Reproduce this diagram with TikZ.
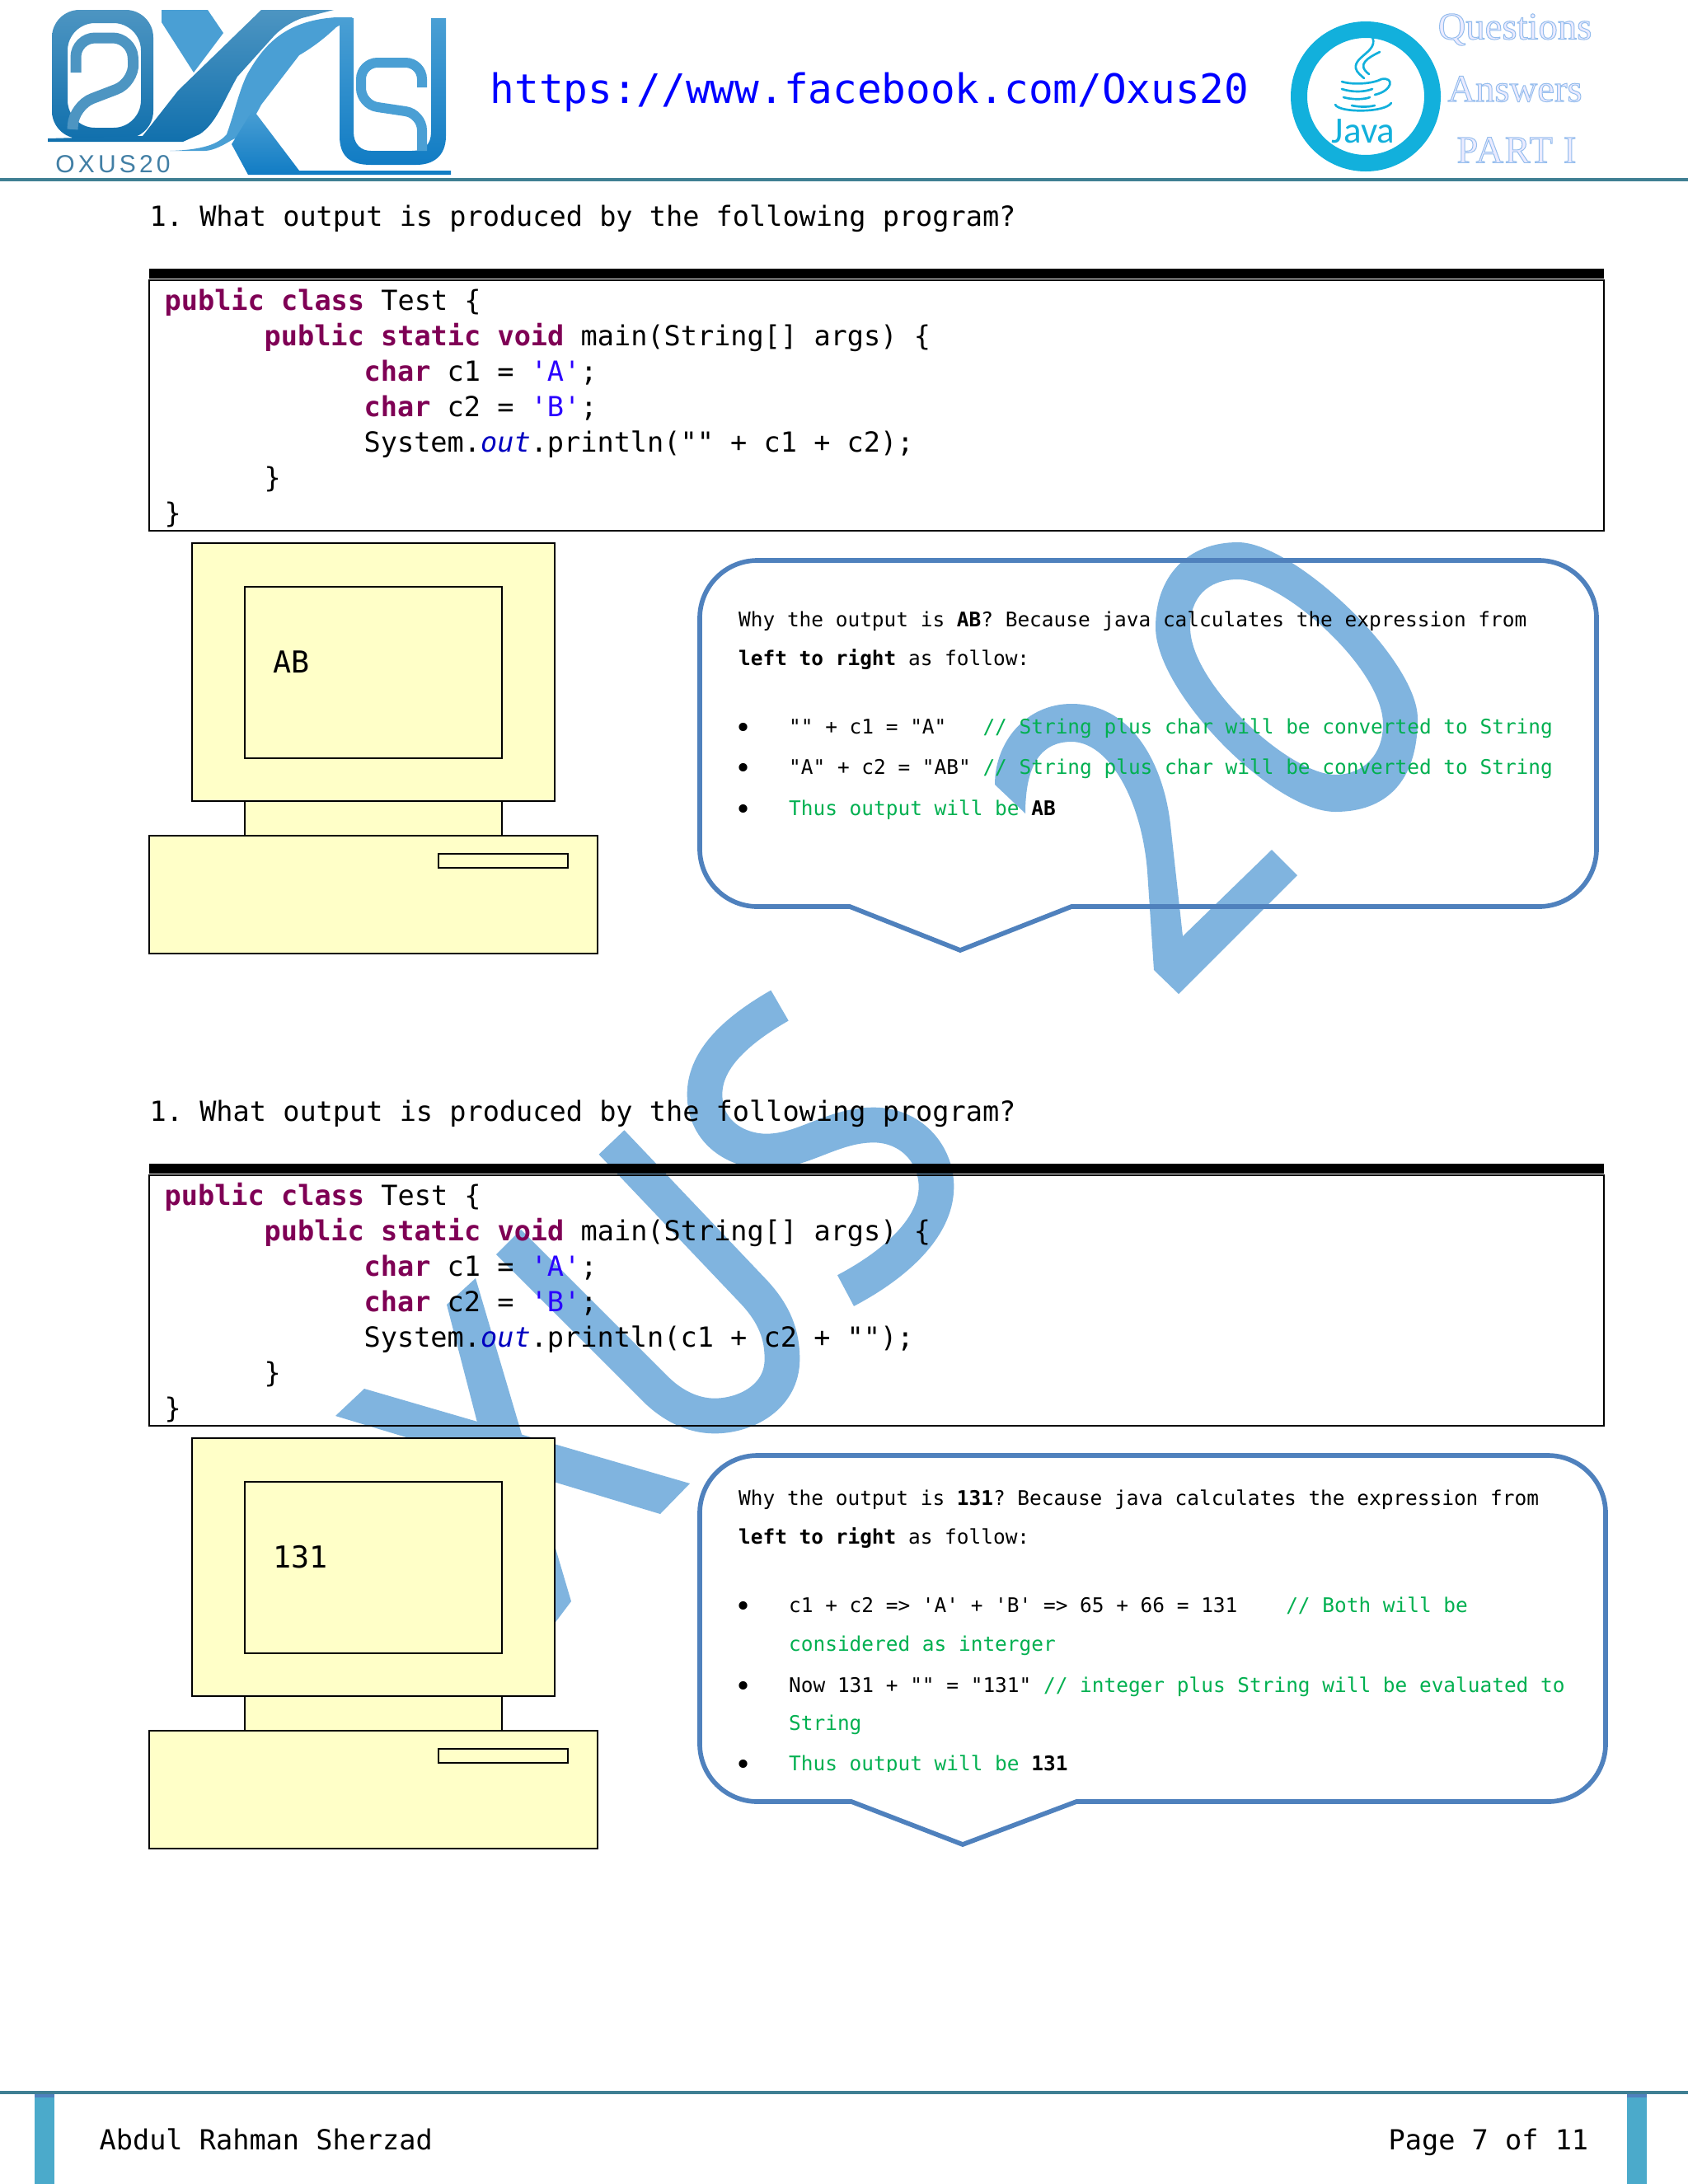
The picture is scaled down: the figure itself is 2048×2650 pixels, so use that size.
\documentclass[tikz,border=0pt]{standalone}
\usepackage{fontspec}
\usepackage{xcolor}
\usepackage{tikz}
\setmonofont{DejaVu Sans Mono}
\newfontfamily\javafont{Carlito}
\newfontfamily\partfont{Liberation Serif}
\newfontfamily\logofont[LetterSpace=14]{Liberation Sans}
\definecolor{wmark}{HTML}{80B4DF}
\definecolor{keyword}{HTML}{7F0055}
\definecolor{literal}{HTML}{2A00FF}
\definecolor{field}{HTML}{0000C0}
\definecolor{comment}{HTML}{00B050}
\definecolor{screen}{HTML}{FFFFC8}
\definecolor{callout}{HTML}{4F81BD}
\definecolor{hline}{HTML}{3F7F93}
\definecolor{bar}{HTML}{4BAACB}
\definecolor{oxlight}{HTML}{4A9FD4}
\definecolor{oxmid}{HTML}{4D95C2}
\definecolor{oxdark}{HTML}{1170AD}
\definecolor{oxdeep}{HTML}{117CC4}
\definecolor{javablue}{HTML}{12B0DC}
\newcommand{\outlined}[1]{\special{pdf:code 2 Tr 0.3 w 0.58 0.74 0.93 RG}#1\special{pdf:code 0 Tr}}
\tikzset{
  code/.style = {anchor=base west,inner sep=0,font=\ttfamily\fontsize{10.07}{12}\selectfont},
  note/.style = {anchor=base west,inner sep=0,font=\ttfamily\fontsize{7.33}{9}\selectfont},
  spot/.style = {anchor=base,inner sep=0,yshift=-1.5pt,font=\ttfamily\fontsize{10.5}{12}\selectfont},
  part/.style = {anchor=center,inner sep=0,text=blue!8,font=\partfont\fontsize{14}{16}\selectfont},
  wstroke/.style = {draw=wmark,line width=12.8pt},
  comp/.style = {draw=black,fill=screen,line width=0.8pt},
  bubble/.style = {draw=callout,line width=1.7pt,rounded corners=21pt,line join=miter},
  ox/.style = {fill=oxlight},
  oxshade/.style = {top color=oxmid,bottom color=oxdark},
  oxleg/.style = {top color=oxlight,bottom color=oxdeep},
  jstroke/.style = {draw=javablue,line width=0.8pt,line cap=round}
}
\newcommand{\kw}[1]{\textcolor{keyword}{\textbf{#1}}}
\newcommand{\cm}[1]{\textcolor{comment}{#1}}

\begin{document}
\begin{tikzpicture}[x=0.3pt,y=-0.3pt]
  \useasboundingbox (0,0) rectangle (2048,2650);
  \fill[white] (0,0) rectangle (2048,2650);

  % watermark
  \fill[wmark,even odd rule]
    (1502,658) .. controls (1440,658) and (1402,700) .. (1402,761)
    .. controls (1402,840) and (1545,985) .. (1620,985)
    .. controls (1680,985) and (1720,950) .. (1720,872)
    .. controls (1720,800) and (1570,658) .. (1502,658) -- cycle
    (1502,703) .. controls (1465,703) and (1444,725) .. (1444,761)
    .. controls (1444,830) and (1565,940) .. (1620,940)
    .. controls (1655,940) and (1678,915) .. (1678,879)
    .. controls (1678,810) and (1555,703) .. (1502,703) -- cycle;
  \fill[wmark]
    (1207,952) .. controls (1207,900) and (1245,854) .. (1300,854)
    .. controls (1375,854) and (1412,930) .. (1420,1000)
    -- (1435,1136) -- (1543,1031) -- (1574,1062) -- (1430,1206) -- (1400,1177)
    -- (1392,1057) .. controls (1385,970) and (1345,900) .. (1300,900)
    .. controls (1265,900) and (1244,925) .. (1244,987) -- cycle;
  \fill[wmark] (442,1685) -- (407,1718) -- (801,1837) -- (837,1800) -- cycle;
  \fill[wmark] (577,1551) -- (542,1583) -- (650,2000) -- (693,1943) -- cycle;
  \draw[wstroke] (742,1386) -- (915,1568) .. controls (940,1595) and (949,1620) .. (949,1649)
    .. controls (949,1695) and (905,1718) .. (867,1718)
    .. controls (840,1718) and (815,1705) .. (795,1685) -- (617,1507);
  \draw[wstroke] (946,1220) .. controls (885,1255) and (855,1290) .. (855,1328)
    .. controls (855,1375) and (895,1397) .. (930,1397)
    .. controls (975,1397) and (1010,1365) .. (1060,1365)
    .. controls (1105,1365) and (1136,1400) .. (1136,1440)
    .. controls (1136,1490) and (1085,1535) .. (1026,1566);

  % logo on the left
  \path[oxshade,even odd rule,rounded corners=10pt] (63,12) rectangle (186,168) (82,28) rectangle (171,155);
  \draw[oxmid,line width=3.9pt,rounded corners=7pt] (92,88) -- (92,46) -- (160,46) -- (163,100) -- (90,128) -- (88,157);
  \fill[oxlight] (196,12) -- (252,12) -- (271,40) -- (235,88) -- (196,27) -- cycle;
  \path[oxshade] (317,12) -- (405,12) -- (366,22) .. controls (345,30) and (333,43) .. (333,43)
    -- (288,93) .. controls (270,125) and (262,150) .. (242,163) -- (222,172) -- (58,172) -- (58,168) -- (173,165)
    -- (216,110) -- cycle;
  \fill[ox] (206,183) .. controls (245,182) and (265,175) .. (275,163)
    .. controls (285,135) and (290,110) .. (300,90)
    .. controls (320,55) and (345,25) .. (408,21) -- (428,21) -- (408,33)
    .. controls (390,50) and (375,60) .. (363,67)
    -- (317,127) .. controls (305,150) and (295,165) .. (281,170)
    .. controls (265,180) and (255,183) .. (248,183) -- cycle;
  \path[oxleg] (307,133) -- (363,207) -- (547,207) -- (547,212) -- (301,212) -- (281,175) -- cycle;
  \path[oxleg] (412,22) -- (429,22) -- (429,160) .. controls (429,175) and (438,183) .. (450,183)
    -- (500,183) .. controls (515,183) and (523,175) .. (523,160) -- (523,22) -- (541,22) -- (541,165)
    .. controls (541,190) and (525,200) .. (505,200) -- (450,200) .. controls (425,200) and (412,190) .. (412,165) -- cycle;
  \draw[oxlight,line width=3.6pt,rounded corners=6pt] (512,106) -- (512,76) -- (438,76) -- (438,127) -- (512,138) -- (512,183);
  \node[inner sep=0,text=oxmid!85!black,font=\logofont\fontsize{9}{10}\selectfont] (oxlabel) at (137,199) {OXUS20};

  % header
  \node[code,text=blue,font=\ttfamily\fontsize{14.8}{17}\selectfont] (link) at (594,125) {https://www.facebook.com/Oxus20};
  \draw[javablue,line width=6pt] (1657,117) circle[radius=81];
  \draw[jstroke] (1664,43) .. controls (1675,62) and (1642,68) .. (1645,83) .. controls (1646,88) and (1652,92) .. (1655,95);
  \draw[jstroke] (1674,63) .. controls (1660,70) and (1645,78) .. (1661,90);
  \draw[jstroke] (1628,99) .. controls (1640,103) and (1665,102) .. (1676,96) .. controls (1692,93) and (1690,110) .. (1668,115);
  \draw[jstroke] (1628,108) .. controls (1640,112) and (1655,112) .. (1665,108);
  \draw[jstroke] (1630,118) .. controls (1640,121) and (1655,121) .. (1662,118);
  \draw[jstroke] (1620,127) .. controls (1625,137) and (1680,137) .. (1688,125);
  \draw[jstroke] (1640,128) .. controls (1650,130) and (1660,130) .. (1668,128);
  \node[anchor=base,inner sep=0,text=javablue,font=\javafont\fontsize{13.5}{15}\selectfont] (java) at (1654,173) {Java};
  \node[part] (questions) at (1838,36) {\outlined{Questions}};
  \node[part] (answers) at (1838,108) {\outlined{Answers}};
  \node[part] (parti) at (1840,182) {\addfontfeature{LetterSpace=3}\outlined{PART I}};
  \draw[hline,line width=1pt] (0,218) -- (2048,218);

  % both questions
  \foreach \n/\s/\expr/\out in {a/0/"" + c1 + c2/AB,b/1086/c1 + c2 + ""/131} {
    \begin{scope}[shift={(0,\s)}]
      \node[code] (q\n) at (181,274) {1. What output is produced by the following program?};
      \fill[black] (181,326) rectangle (1946,338);
      \draw[black,line width=0.6pt] (181,340) rectangle (1946,644);
      \node[code] (l1\n) at (199,376) {\kw{public class} Test \{};
      \node[code] (l2\n) at (320,419) {\kw{public static void} main(String[] args) \{};
      \node[code] (l3\n) at (441,462) {\kw{char} c1 = \textcolor{literal}{'A'};};
      \node[code] (l4\n) at (441,505) {\kw{char} c2 = \textcolor{literal}{'B'};};
      \node[code] (l5\n) at (441,548) {System.\textcolor{field}{\textit{out}}.println(\expr);};
      \node[code] (l6\n) at (320,591) {\}};
      \node[code] (l7\n) at (199,634) {\}};
      \draw[comp] (233,659) rectangle (673,972);
      \draw[comp] (297,712) rectangle (609,920);
      \draw[comp] (297,972) rectangle (609,1014);
      \draw[comp] (181,1014) rectangle (725,1157);
      \draw[comp] (532,1036) rectangle (689,1053);
      \node[code,font=\ttfamily\fontsize{11}{13}\selectfont] (out\n) at (331,816) {\out};
    \end{scope}
  }

  % first answer
  \draw[bubble] (849,680) -- (1937,680) -- (1937,1100) [sharp corners] -- (1300,1100) -- (1165,1153) -- (1031,1100) [rounded corners=21pt] -- (849,1100) -- cycle;
  \node[note] (a1) at (895.5,760) {Why the output is \textbf{AB}? Because java calculates the expression from};
  \node[note] (a2) at (895.5,807) {\textbf{left to right} as follow:};
  \node[spot] (a3) at (902,890) {•};
  \node[note] (a4) at (956.5,890) {"" + c1 = "A"~~~\cm{// String plus char will be converted to String}};
  \node[spot] (a5) at (902,939) {•};
  \node[note] (a6) at (956.5,939) {"A" + c2 = "AB" \cm{// String plus char will be converted to String}};
  \node[spot] (a7) at (902,989) {•};
  \node[note] (a8) at (956.5,989) {\cm{Thus output will be} \textbf{AB}};

  % second answer
  \draw[bubble] (849,1766) -- (1948,1766) -- (1948,2186) [sharp corners] -- (1306,2186) -- (1168,2238) -- (1033,2186) [rounded corners=21pt] -- (849,2186) -- cycle;
  \node[note] (b1) at (895.5,1826) {Why the output is \textbf{131}? Because java calculates the expression from};
  \node[note] (b2) at (895.5,1873) {\textbf{left to right} as follow:};
  \node[spot] (b3) at (902,1956) {•};
  \node[note] (b4) at (956.5,1956) {c1 + c2 => 'A' + 'B' => 65 + 66 = 131~~~~\cm{// Both will be}};
  \node[note] (b5) at (956.5,2003) {\cm{considered as interger}};
  \node[spot] (b6) at (902,2053) {•};
  \node[note] (b7) at (956.5,2053) {Now 131 + "" = "131" \cm{// integer plus String will be evaluated to}};
  \node[note] (b8) at (956.5,2099) {\cm{String}};
  \node[spot] (b9) at (902,2148) {•};
  \begin{scope}
    \clip (950,2110) rectangle (1400,2149);
    \node[note] (b10) at (956.5,2148) {\cm{Thus output will be} \textbf{131}};
  \end{scope}

  % footer
  \draw[hline,line width=1pt] (0,2539) -- (2048,2539);
  \foreach \x in {42,1974} {
    \fill[bar] (\x,2541) rectangle (\x+24,2650);
    \fill[callout] (\x,2541) rectangle (\x+24,2545);
  }
  \node[code] (author) at (120,2608) {Abdul Rahman Sherzad};
  \node[code] (page) at (1684,2608) {Page 7 of 11};
\end{tikzpicture}
\end{document}
